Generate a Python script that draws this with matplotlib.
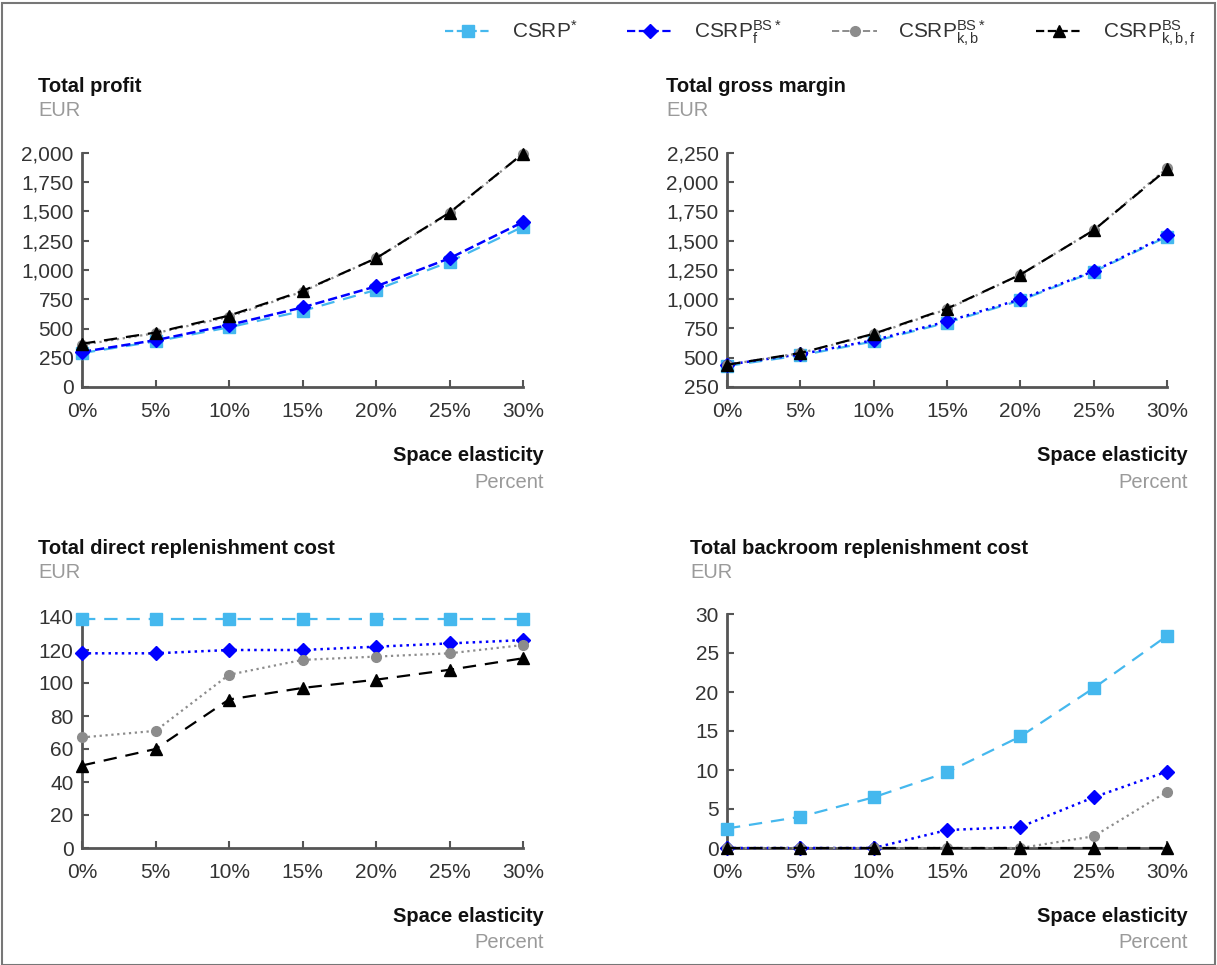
import matplotlib
matplotlib.use("Agg")
import matplotlib.pyplot as plt
from matplotlib.lines import Line2D
from matplotlib.patches import Rectangle
from matplotlib.ticker import FuncFormatter

plt.rcParams["font.family"] = ["Liberation Sans", "DejaVu Sans"]
plt.rcParams["mathtext.fontset"] = "custom"
plt.rcParams["mathtext.rm"] = "Liberation Sans"
plt.rcParams["mathtext.it"] = "Liberation Sans"

# ---- data -------------------------------------------------------------
elasticity = [0, 5, 10, 15, 20, 25, 30]
x_labels = ["0%", "5%", "10%", "15%", "20%", "25%", "30%"]

series_names = ["CSRP$^{*}$", "CSRP$_{f}^{BS*}$", "CSRP$_{k,b}^{BS*}$", "CSRP$_{k,b,f}^{BS}$"]

profit_csrp = [290, 390, 510, 650, 830, 1070, 1370]
profit_f = [300, 400, 530, 680, 860, 1100, 1410]
profit_kb = [360, 460, 600, 815, 1100, 1485, 1995]
profit_kbf = [370, 465, 610, 820, 1100, 1490, 1995]

margin_csrp = [430, 520, 640, 800, 990, 1235, 1535]
margin_f = [440, 530, 650, 810, 1000, 1240, 1545]
margin_kb = [440, 540, 700, 915, 1210, 1590, 2120]
margin_kbf = [440, 540, 705, 920, 1210, 1590, 2110]

direct_csrp = [139, 139, 139, 139, 139, 139, 139]
direct_f = [118, 118, 120, 120, 122, 124, 126]
direct_kb = [67, 71, 105, 114, 116, 118, 123]
direct_kbf = [50, 60, 90, 97, 102, 108, 115]

back_csrp = [2.5, 4.0, 6.5, 9.7, 14.3, 20.5, 27.2]
back_f = [0, 0, 0, 2.3, 2.7, 6.5, 9.8]
back_kb = [0, 0, 0, 0, 0, 1.5, 7.2]
back_kbf = [0, 0, 0, 0, 0, 0, 0]

# ---- styles -----------------------------------------------------------
LIGHT = "#45b8ee"
BLUE = "#0000ff"
GREY = "#8c8c8c"
BLACK = "#000000"
TXT = "#333333"
SUB = "#9a9a9a"

W, H = 1217, 965


def fx(px):
    return px / W


def fy(py):
    return 1 - py / H


fig = plt.figure(figsize=(W / 100, H / 100), dpi=100)
fig.patches.append(Rectangle((0.002, 0.0), 0.996, 0.997, transform=fig.transFigure,
                             fill=False, edgecolor="#777777", lw=1.5))

panels = [
    dict(rect=(82, 153, 523, 387), title="Total profit", tx=38, ty=87,
         ylim=(0, 2000), step=250, fmt=True,
         data=[profit_csrp, profit_f, profit_kb, profit_kbf], blue_ls="--"),
    dict(rect=(727, 153, 1167, 387), title="Total gross margin", tx=666, ty=87,
         ylim=(250, 2250), step=250, fmt=True,
         data=[margin_csrp, margin_f, margin_kb, margin_kbf], blue_ls=":"),
    dict(rect=(82, 617, 523, 848), title="Total direct replenishment cost", tx=38, ty=549,
         ylim=(0, 140), step=20, fmt=False,
         data=[direct_csrp, direct_f, direct_kb, direct_kbf], blue_ls=":"),
    dict(rect=(727, 614, 1167, 848), title="Total backroom replenishment cost", tx=690, ty=549,
         ylim=(0, 30), step=5, fmt=False,
         data=[back_csrp, back_f, back_kb, back_kbf], blue_ls=":"),
]

for p in panels:
    x0, y0, x1, y1 = p["rect"]
    ax = fig.add_axes([fx(x0), fy(y1), fx(x1 - x0), (y1 - y0) / H])
    d = p["data"]
    ax.plot(elasticity, d[0], ls="--", color=LIGHT, marker="s", ms=8, lw=1.6,
            dashes=(6, 4), clip_on=False, zorder=3)
    ax.plot(elasticity, d[1], ls=p["blue_ls"], color=BLUE, marker="D", ms=7, lw=1.8,
            clip_on=False, zorder=4)
    ax.plot(elasticity, d[2], ls=":", color=GREY, marker="o", ms=7, lw=1.6,
            clip_on=False, zorder=5)
    ax.plot(elasticity, d[3], ls="--", color=BLACK, marker="^", ms=8, lw=1.6,
            dashes=(6, 4), clip_on=False, zorder=6)

    ax.set_xlim(0, 30)
    ax.set_ylim(*p["ylim"])
    ax.set_xticks(elasticity)
    ax.set_xticklabels(x_labels)
    lo, hi = p["ylim"]
    ax.set_yticks(range(lo, hi + 1, p["step"]))
    if p["fmt"]:
        ax.yaxis.set_major_formatter(FuncFormatter(lambda v, _: f"{int(v):,}"))
    for s in ["top", "right"]:
        ax.spines[s].set_visible(False)
    for s in ["left", "bottom"]:
        ax.spines[s].set_color("#555555")
        ax.spines[s].set_linewidth(2)
    ax.tick_params(direction="in", length=5, width=1.5, color="#555555",
                   labelsize=15, labelcolor=TXT)
    ax.tick_params(axis="x", pad=11)
    ax.tick_params(axis="y", pad=6)

    fig.text(fx(p["tx"]), fy(p["ty"]), p["title"], fontsize=14.5, fontweight="bold",
             color="#111111", va="center", ha="left")
    fig.text(fx(p["tx"]), fy(p["ty"] + 23), "EUR", fontsize=14.5, color=SUB,
             va="center", ha="left")
    fig.text(fx(x1 + 21), fy(y1 + 69), "Space elasticity", fontsize=14.5,
             fontweight="bold", color="#111111", va="center", ha="right")
    fig.text(fx(x1 + 21), fy(y1 + 95), "Percent", fontsize=14.5, color=SUB,
             va="center", ha="right")

handles = [
    Line2D([], [], ls="--", color=LIGHT, marker="s", ms=8, lw=1.6),
    Line2D([], [], ls="--", color=BLUE, marker="D", ms=7, lw=1.6),
    Line2D([], [], ls="--", color=GREY, marker="o", ms=7, lw=1.4),
    Line2D([], [], ls="--", color=BLACK, marker="^", ms=8, lw=1.6),
]
fig.legend(handles, series_names, loc="center right", bbox_to_anchor=(fx(1214), fy(33)),
           ncol=4, frameon=False, fontsize=15, handlelength=2.2, columnspacing=2.4,
           handletextpad=1.0, labelcolor=TXT)

fig.savefig("out.png", dpi=100)
